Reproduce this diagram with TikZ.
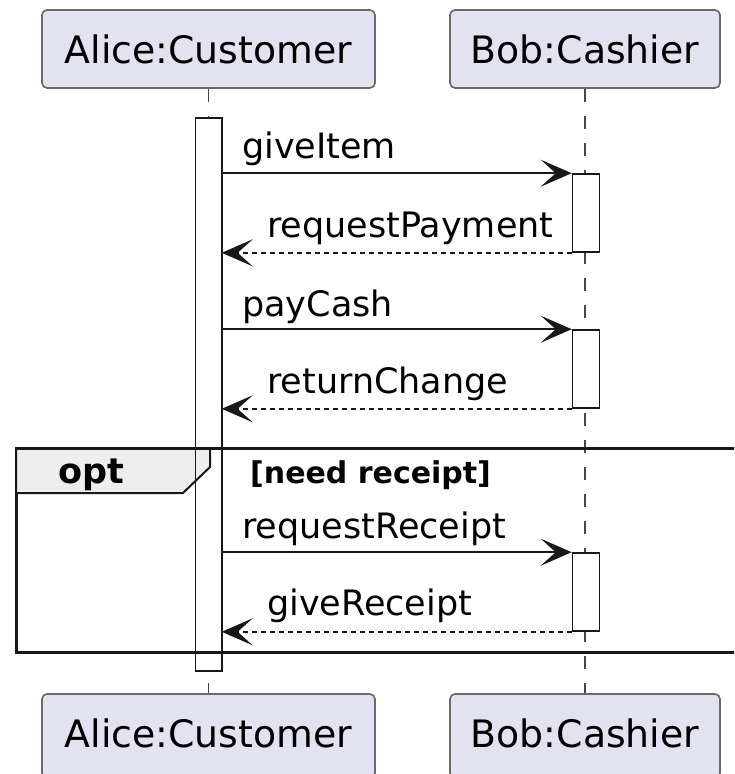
\documentclass[tikz,border=0pt]{standalone}
\usepackage{fontspec}
\setmainfont{DejaVu Sans}
\usetikzlibrary{arrows.meta}
\definecolor{partfill}{HTML}{E2E2F0}
\definecolor{ink}{HTML}{181818}
\definecolor{tabfill}{HTML}{EEEEEE}
\begin{document}
\begin{tikzpicture}[x=1pt,y=-1pt,
  participant/.style={draw=ink!65, line width=1.6pt, fill=partfill, rounded corners=5pt,
    inner sep=0pt, font=\fontsize{37.8}{44}\selectfont, text=black},
  lifeline/.style={draw=ink!80, line width=1.3pt, dash pattern=on 13.5pt off 13.5pt},
  actbar/.style={rectangle, inner sep=0pt, minimum width=27pt},
  actline/.style={draw=ink, line width=1.6pt},
  msg/.style={draw=ink, line width=2pt, -{Stealth[length=31pt, width=27pt, inset=15pt]}},
  ret/.style={msg, dash pattern=on 5pt off 4pt},
  msglabel/.style={anchor=base west, inner sep=0pt, font=\fontsize{35}{40}\selectfont},
  framebox/.style={draw=ink, line width=3pt},
  tabbox/.style={draw=ink, line width=2pt, fill=tabfill},
  oplabel/.style={anchor=base, inner sep=0pt, font=\fontsize{35}{40}\selectfont\bfseries},
  condlabel/.style={anchor=base west, inner sep=0pt, font=\fontsize{30}{36}\selectfont\bfseries}
]
\useasboundingbox (0,0) rectangle (734,774);
\clip (0,0) rectangle (734,774);
\fill[white] (0,0) rectangle (734,774);

% participants
\node[participant, minimum width=333pt, minimum height=78pt] (at) at (208.5,49) {Alice:Customer};
\node[participant, minimum width=270pt, minimum height=78pt] (bt) at (585,49) {Bob:Cashier};
\node[participant, minimum width=333pt, minimum height=84pt, text depth=6pt] (ab) at (208.5,736) {Alice:Customer};
\node[participant, minimum width=270pt, minimum height=84pt, text depth=6pt] (bb) at (585,736) {Bob:Cashier};

% lifelines
\draw[lifeline] (at.south) -- (ab.north);
\draw[lifeline] (bt.south) -- (bb.north);

% activation bars (fill first)
\node[actbar, minimum width=26pt, minimum height=553pt, fill=white] (aact) at (208.5,394.5) {};
\node[actbar, minimum height=78pt, fill=white, actline] (b1) at (586,213) {};
\node[actbar, minimum height=78pt, fill=white, actline] (b2) at (586,369) {};
\node[actbar, minimum height=78pt, fill=white, actline] (b3) at (586,592) {};

% opt frame
\draw[framebox] (16,448) rectangle (760,652);
\filldraw[tabbox] (16,448) -- (210,448) -- (210,467) -- (183,493) -- (16,493) -- cycle;
\draw[framebox] (16,448) -- (760,448);
\node[oplabel] (optl) at (91,483) {opt};
\node[condlabel] (cond) at (250,483) {[need receipt]};

% Alice activation outline on top
\draw[actline] (aact.north west) rectangle (aact.south east);

% messages
\draw[msg] (aact.east |- b1.north) -- (b1.north west);
\node[msglabel] (m1) at (242,158) {giveItem};
\draw[ret] (b1.south west) -- (aact.east |- b1.south);
\node[msglabel] (m2) at (267,237) {requestPayment};

\draw[msg] (aact.east |- b2.north) -- (b2.north west);
\node[msglabel] (m3) at (242,316) {payCash};
\draw[ret] (b2.south west) -- (aact.east |- b2.south);
\node[msglabel] (m4) at (267,393) {returnChange};

\draw[msg] (aact.east |- b3.north) -- (b3.north west);
\node[msglabel] (m5) at (242,538) {requestReceipt};
\draw[ret] (b3.south west) -- (aact.east |- b3.south);
\node[msglabel] (m6) at (267,615) {giveReceipt};
\end{tikzpicture}
\end{document}
